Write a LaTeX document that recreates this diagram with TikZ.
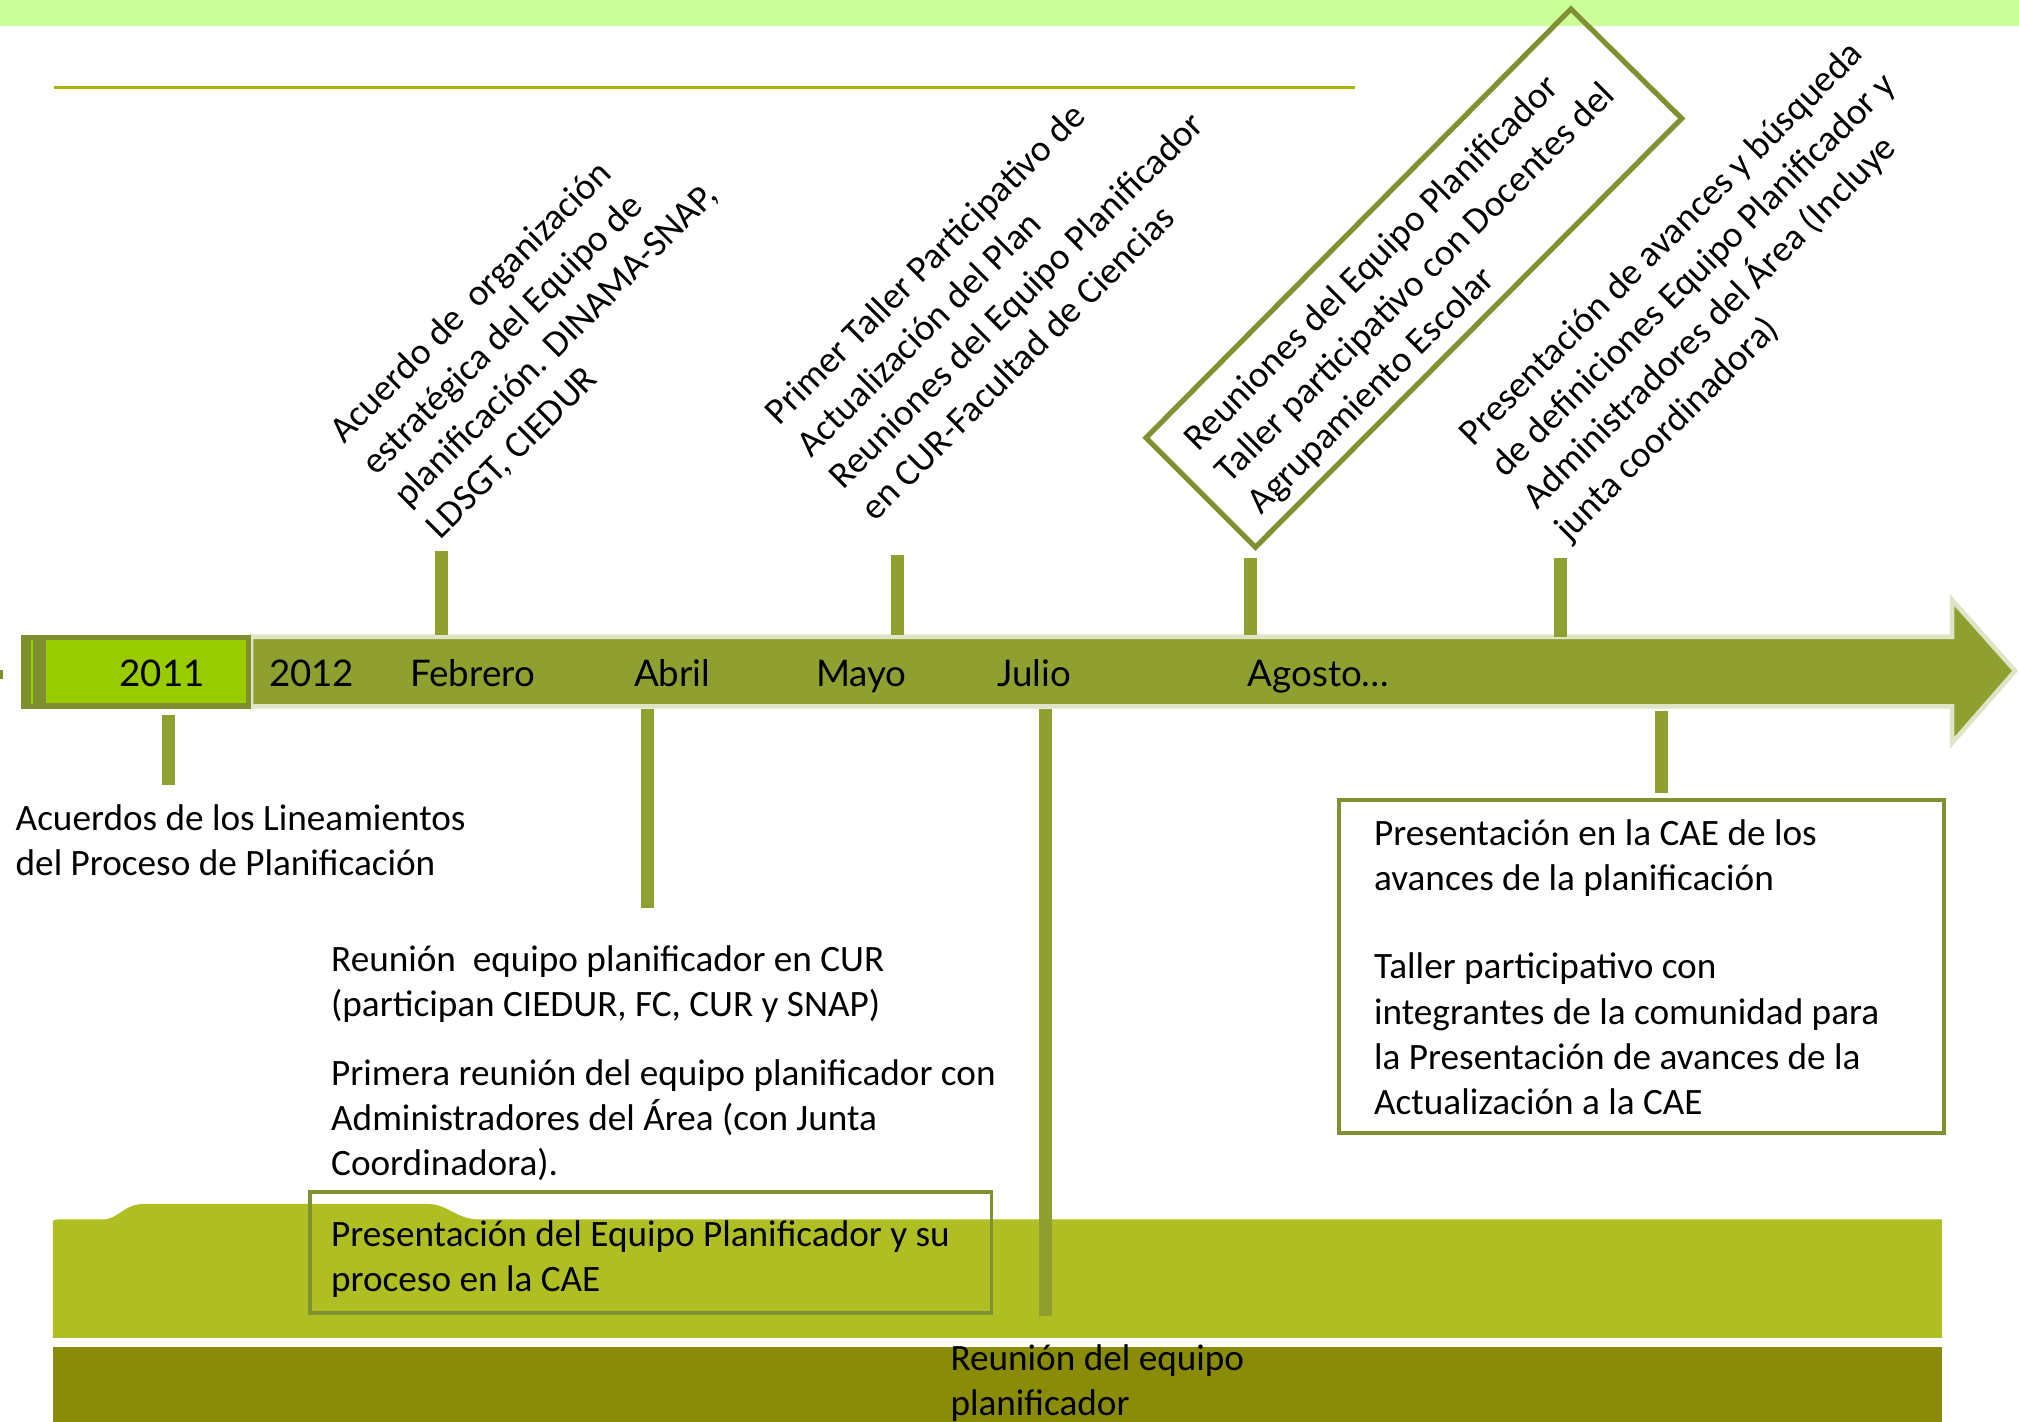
\documentclass[tikz,border=0pt]{standalone}
\usepackage{fontspec}
\setmainfont{Carlito}
\newfontfamily\gill{Lato}
\definecolor{topband}{HTML}{CCFF99}
\definecolor{hlinec}{HTML}{A9B300}
\definecolor{barfill}{HTML}{8FA031}
\definecolor{barborder}{HTML}{DEE4C5}
\definecolor{darkolive}{HTML}{7F8F2E}
\definecolor{green2011}{HTML}{99CC00}
\definecolor{tickc}{HTML}{8FA031}
\definecolor{framec}{HTML}{7F9130}
\definecolor{bandA}{HTML}{AFBE22}
\definecolor{bandB}{HTML}{8A8C08}
\begin{document}
\begin{tikzpicture}[x=1pt,y=-1pt,
  body/.style={font=\fontsize{28.9}{35}\selectfont, inner sep=0pt, align=left, anchor=north west},
  rtext/.style={body, rotate=45},
  month/.style={font=\gill\fontsize{28.5}{34}\selectfont, inner sep=0pt, anchor=base},
  tickbar/.style={line width=10pt, draw=tickc},
  frame/.style={draw=framec, line width=3pt}]
\useasboundingbox (0,0) rectangle (1568,1104);
\fill[white] (0,0) rectangle (1568,1104);
% top band and line
\fill[topband] (0,0) rectangle (1568,20);
\draw[hlinec, line width=3pt] (42,68) -- (1052,68);
% bottom bands
\fill[bandA] (41,1039) -- (41,951) .. controls (41,947) .. (50,947) -- (80,947)
  .. controls (92,947) and (96,935) .. (112,935) -- (332,935)
  .. controls (348,935) and (354,947) .. (372,947) -- (1508,947) -- (1508,1039) -- cycle;
\fill[bandB] (41,1046) rectangle (1508,1104);
% timeline arrow
\draw[fill=barfill, draw=barborder, line width=3.5pt, line join=miter]
  (195,494.5) -- (1516,494.5) -- (1516,466) -- (1565,521) -- (1516,577) -- (1516,548.5) -- (195,548.5) -- cycle;
\fill[darkolive] (16,493) rectangle (195,551);
\fill[green2011] (36,497) rectangle (191,546);
\draw[green2011, line width=1.5pt] (25,497) -- (25,547);
\fill[darkolive] (0,520) rectangle (2,527);
% month labels
\node[month] (y2011) at (126,533) {2011};
\node[month] (y2012) at (242,533) {2012};
\node[month] (feb) at (367,533) {Febrero};
\node[month] (abr) at (522,533) {Abril};
\node[month] (may) at (669,533) {Mayo};
\node[month] (jul) at (803,533) {Julio};
\node[month] (ago) at (1024,533) {Agosto…};
% tick coordinates
\coordinate (t1a) at (343,428); \coordinate (t1b) at (343,493);
\coordinate (t2a) at (697,431); \coordinate (t2b) at (697,493);
\coordinate (t3a) at (971,433); \coordinate (t3b) at (971,493);
\coordinate (t4a) at (1212,433); \coordinate (t4b) at (1212,495);
\coordinate (b1a) at (131,555); \coordinate (b1b) at (131,610);
\coordinate (b2a) at (503,551); \coordinate (b2b) at (503,705);
\coordinate (b3a) at (812,551); \coordinate (b3b) at (812,1022);
\coordinate (b4a) at (1290,552); \coordinate (b4b) at (1290,616);
\foreach \p in {t1,t2,t3,t4,b1,b2,b3,b4} \draw[tickbar] (\p a) -- (\p b);
% rotated texts
\node[rtext] (r1) at (253,331) {Acuerdo de\ \ organización\\estratégica del Equipo de\\planificación. DINAMA-SNAP,\\LDSGT, CIEDUR};
\node[rtext] (r2) at (591,317) {Primer Taller Participativo de\\Actualización del Plan\\Reuniones del Equipo Planificador\\en CUR-Facultad de Ciencias};
\node[rtext] (r3) at (916,337) {Reuniones del Equipo Planificador\\Taller participativo con Docentes del\\Agrupamiento Escolar};
\draw[framec, line width=4pt, line join=miter] (890,340) -- (1220,7) -- (1306,92) -- (975,425) -- cycle;
\node[rtext] (r4) at (1130,333) {Presentación de avances y búsqueda\\de definiciones Equipo Planificador y\\Administradores del Área (Incluye\\junta coordinadora)};
% lower texts
\node[body] (l1) at (12,625) {Acuerdos de los Lineamientos\\del Proceso de Planificación};
\node[body] (l2) at (257,734) {Reunión\ \ equipo planificador en CUR\\(participan CIEDUR, FC, CUR y SNAP)};
\node[body] (l3) at (257,823) {Primera reunión del equipo planificador con\\Administradores del Área (con Junta\\Coordinadora).};
\node[body] (l4) at (257,948) {Presentación del Equipo Planificador y su\\proceso en la CAE};
\draw[frame] (241,926) rectangle (770,1020);
\node[body] (l5) at (738,1044) {Reunión del equipo\\planificador};
\draw[frame] (1040,621) rectangle (1510,880);
\node[body] (l6) at (1067,636) {Presentación en la CAE de los\\avances de la planificación};
\node[body] (l7) at (1067,740) {Taller participativo con\\integrantes de la comunidad para\\la Presentación de avances de la\\Actualización a la CAE};
\end{tikzpicture}
\end{document}
